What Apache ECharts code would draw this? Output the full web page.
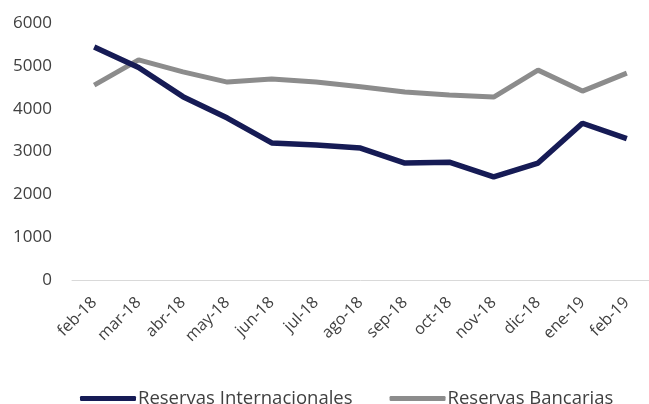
<!DOCTYPE html>
<html><head><meta charset="utf-8">
<script src="https://cdn.jsdelivr.net/npm/echarts@6/dist/echarts.min.js"></script>
<style>html,body{margin:0;padding:0;background:#fff}#c{width:649px;height:404px}</style>
</head><body><div id="c"></div>
<script>
const categories = ['feb-18','mar-18','abr-18','may-18','jun-18','jul-18','ago-18','sep-18','oct-18','nov-18','dic-18','ene-19','feb-19'];
const reservasInternacionales = [5440,4960,4280,3780,3200,3150,3080,2730,2750,2410,2730,3660,3300];
const reservasBancarias = [4550,5140,4860,4620,4690,4620,4510,4390,4320,4270,4900,4410,4830];
const yTicks = {min:0, max:6000, interval:1000};
const font = '"Open Sans", "Liberation Sans", sans-serif';
const chart = echarts.init(document.getElementById('c'));
chart.setOption({
  animation:false,
  backgroundColor:'#fff',
  grid:{left:72, right:-11, top:23, bottom:124},
  xAxis:{type:'category', data:categories, boundaryGap:true,
    axisLine:{lineStyle:{color:'#d9d9d9', width:1}}, axisTick:{show:false},
    axisLabel:{rotate:45, color:'#404040', fontFamily:font, fontSize:16, margin:20, interval:0}},
  yAxis:{type:'value', min:yTicks.min, max:yTicks.max, interval:yTicks.interval,
    splitLine:{show:false}, axisLine:{show:false}, axisTick:{show:false},
    axisLabel:{color:'#404040', fontFamily:font, fontSize:17, margin:20, formatter:function(v){return String(v);}}},
  legend:{top:384, left:75, itemWidth:56, itemHeight:5, itemGap:37, icon:'roundRect',
    textStyle:{color:'#404040', fontFamily:font, fontSize:18.5, padding:[0,0,0,-3]},
    data:['Reservas Internacionales','Reservas Bancarias']},
  series:[
    {name:'Reservas Internacionales', type:'line', data:reservasInternacionales, symbol:'none',
      lineStyle:{color:'#161b55', width:5.5}, itemStyle:{color:'#161b55'}, z:3},
    {name:'Reservas Bancarias', type:'line', data:reservasBancarias, symbol:'none',
      lineStyle:{color:'#8c8c8c', width:5}, itemStyle:{color:'#8c8c8c'}, z:2}
  ]
});
</script></body></html>
